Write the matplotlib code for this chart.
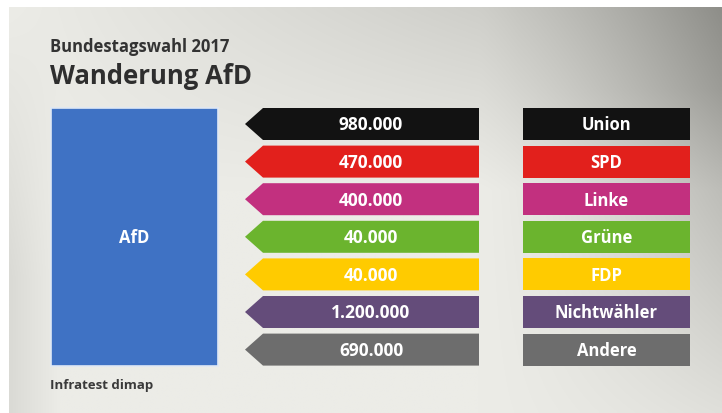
import numpy as np
import matplotlib
matplotlib.use("Agg")
import matplotlib.pyplot as plt
from matplotlib.patches import Polygon, Rectangle

# ---- data ----
parties = ["Union", "SPD", "Linke", "Grüne", "FDP", "Nichtwähler", "Andere"]
voters = [980000, 470000, 400000, 40000, 40000, 1200000, 690000]
colors = ["#121212", "#E2201C", "#C2307F", "#6BB42E", "#FFCB00", "#644C7A", "#6D6D6D"]
target = "AfD"
target_color = "#3F72C4"
supertitle = "Bundestagswahl 2017"
title = "Wanderung AfD"
source = "Infratest dimap"

W, H = 722, 414
fig = plt.figure(figsize=(W / 100, H / 100), dpi=100)
ax = fig.add_axes([0, 0, 1, 1])
ax.set_xlim(0, W)
ax.set_ylim(H, 0)
ax.axis("off")

# background: white margins + gray gradient panel
fig.patch.set_facecolor("white")
x0, y0 = 9, 8
gx = np.linspace(0, 1, 300)
gy = np.linspace(0, 1, 200)
X, Y = np.meshgrid(gx, gy)
val = 236.0
val = val - 62 * np.clip((X - 0.66) / 0.34, 0, 1) ** 1.3 * np.clip(1.2 - Y * 1.0, 0, 1)
val = val - 32 * np.clip((0.45 - Y) / 0.45, 0, 1) * np.clip(X * 1.4, 0, 1)
val = val - 18 * np.clip((0.07 - X) / 0.07, 0, 1) * np.clip(Y * 1.5, 0, 1)
img = np.stack([val, val, val - 5], axis=-1) / 255.0
img = np.clip(img, 0, 1)
ax.imshow(img, extent=[x0, W, H, y0], aspect="auto", zorder=0, interpolation="bilinear")

fam = ["Open Sans", "DejaVu Sans"]

# titles
ax.text(50, 52, supertitle, fontsize=12, fontweight="bold", color="#333333",
        family=fam, ha="left", va="baseline", zorder=3)
ax.text(50, 84, title, fontsize=18.5, fontweight="bold", color="#2e2e2e",
        family=fam, ha="left", va="baseline", zorder=3)
ax.text(50, 389, source, fontsize=9.5, fontweight="bold", color="#3a3a3a",
        family=fam, ha="left", va="baseline", zorder=3)

# layout
row_top, pitch, row_h = 109, 37.6, 32
n = len(parties)
bottom = row_top + (n - 1) * pitch + row_h

# target box
ax.add_patch(Rectangle((51, row_top), 167, bottom - row_top, facecolor=target_color,
                       edgecolor="#dfe8f5", linewidth=1.2, zorder=2))
ax.text((51 + 218) / 2, (row_top + bottom) / 2, target, color="white", fontsize=12,
        fontweight="bold", family=fam, ha="center", va="center", zorder=3)

tip_x, notch_x, right_x = 245, 263, 479
leg_l, leg_r = 523, 690
for i, (p, v, c) in enumerate(zip(parties, voters, colors)):
    t = row_top + i * pitch
    b = t + row_h
    m = (t + b) / 2
    poly = Polygon([(tip_x, m), (notch_x, t), (right_x, t), (right_x, b), (notch_x, b)],
                   closed=True, facecolor=c, edgecolor="none", zorder=2)
    ax.add_patch(poly)
    label = f"{v:,}".replace(",", ".")
    ax.text((notch_x + right_x) / 2, m + 0.5, label, color="white", fontsize=12.5,
            fontweight="bold", family=fam, ha="center", va="center", zorder=3)
    ax.add_patch(Rectangle((leg_l, t), leg_r - leg_l, row_h, facecolor=c,
                           edgecolor="none", zorder=2))
    ax.text((leg_l + leg_r) / 2, m + 0.5, p, color="white", fontsize=12,
            fontweight="bold", family=fam, ha="center", va="center", zorder=3)

fig.savefig("out.png", dpi=100)
